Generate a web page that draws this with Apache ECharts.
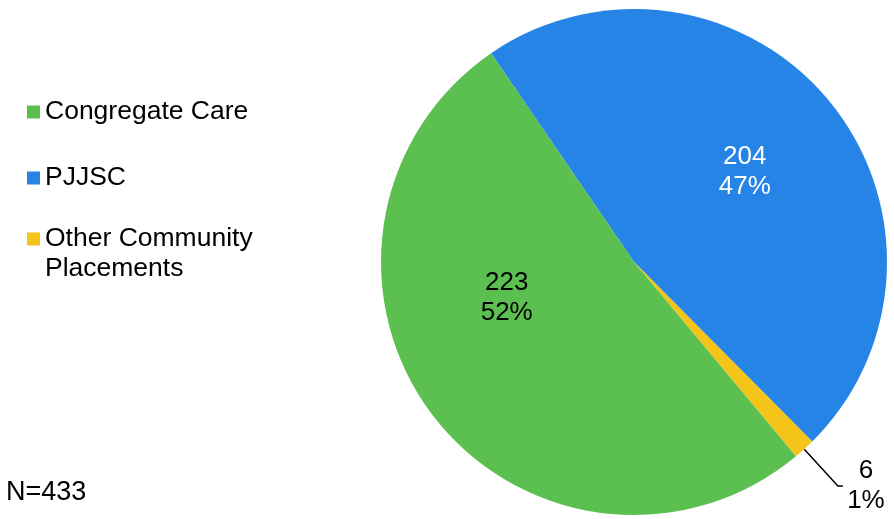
<!DOCTYPE html>
<html>
<head>
<meta charset="utf-8">
<script src="https://cdn.jsdelivr.net/npm/echarts@6/dist/echarts.min.js"></script>
<style>
  html, body { margin: 0; padding: 0; background: #fff; }
  #chart { width: 894px; height: 519px; }
</style>
</head>
<body>
<div id="chart"></div>
<script>
// slice order follows the drawing (clockwise from the upper-left edge)
const names  = ['PJJSC', 'Other Community Placements', 'Congregate Care']
const values = [204, 6, 223]
const colors = ['#2684E6', '#F4C418', '#5BC050']
const legendTop = ['Congregate Care', 'PJJSC']
const legendLow = ['Other Community Placements']
const totalText = 'N=433'

// small nudges so the inside labels sit where the reference has them
const labelNudge = { 0: [11, -8], 2: [-24, -42] }

const chart = echarts.init(document.getElementById('chart'))

const legendBase = {
    orient: 'vertical',
    left: 22,
    itemGap: 36,
    itemWidth: 13,
    itemHeight: 13,
    icon: 'rect',
    textStyle: { fontSize: 26.5, lineHeight: 30, color: '#000' }
}

chart.setOption({
    animation: false,
    textStyle: { fontFamily: 'Liberation Sans, Arial, sans-serif' },
    title: {
        text: totalText,
        left: 1,
        top: 474,
        textStyle: { fontSize: 27, fontWeight: 'normal', color: '#000' }
    },
    legend: [
        Object.assign({}, legendBase, { top: 92, data: legendTop }),
        // leading blank line keeps the marker level with the first text line
        Object.assign({}, legendBase, {
            top: 189,
            data: legendLow,
            formatter: n => '\n' + n.replace('Community ', 'Community\n')
        })
    ],
    series: [{
        type: 'pie',
        center: [634, 262],
        radius: 253,
        startAngle: 124.4,
        clockwise: true,
        avoidLabelOverlap: false,
        emphasis: { disabled: true },
        label: {
            show: true,
            position: 'outside',
            fontSize: 26,
            lineHeight: 30,
            color: '#000',
            distanceToLabelLine: 4,
            formatter: p => '{c|' + p.value + '}\n{c|' + Math.round(p.percent) + '%}',
            rich: { c: { width: 38, align: 'center', fontSize: 26, lineHeight: 30 } }
        },
        labelLine: {
            show: true,
            length: 50,
            length2: 5,
            lineStyle: { color: '#000', width: 1.5 }
        },
        labelLayout: p => {
            const d = labelNudge[p.dataIndex]
            return d ? { dx: d[0], dy: d[1] } : {}
        },
        data: names.map((n, i) => ({
            name: n,
            value: values[i],
            itemStyle: { color: colors[i] },
            label: i === 1 ? {} : {
                position: 'inside',
                formatter: p => p.value + '\n' + Math.round(p.percent) + '%',
                color: i === 0 ? '#fff' : '#000'
            }
        }))
    }]
})
</script>
</body>
</html>
